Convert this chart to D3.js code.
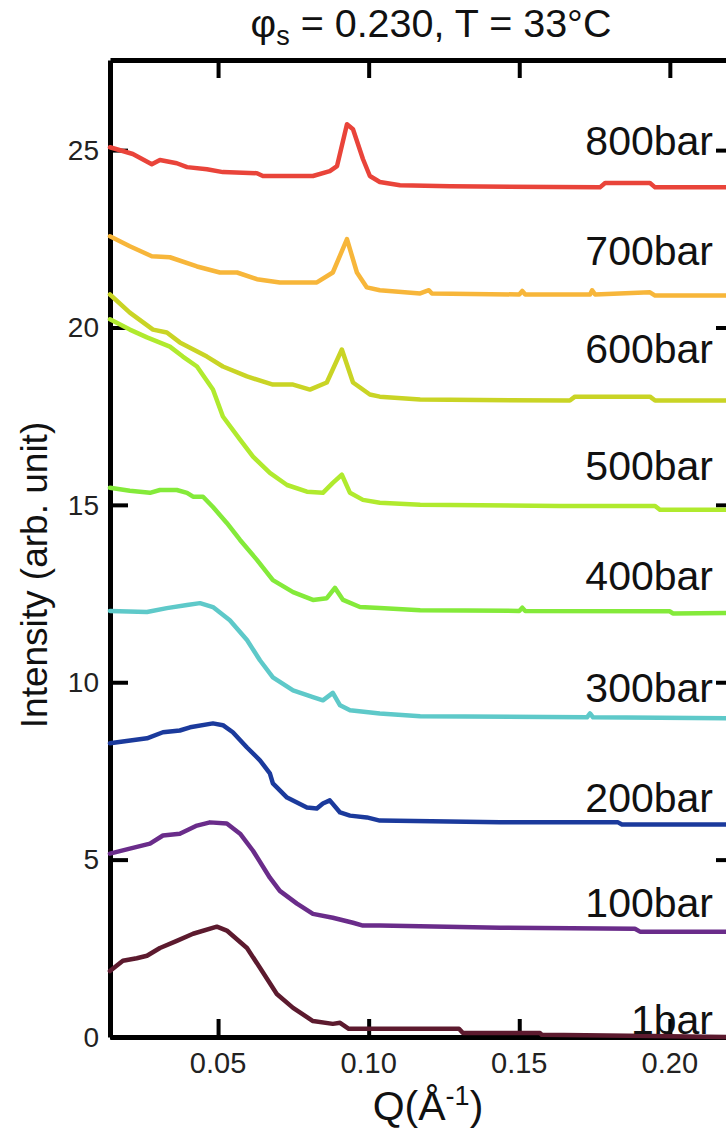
<!DOCTYPE html>
<html>
<head>
<meta charset="utf-8">
<script src="https://cdn.jsdelivr.net/npm/d3@7"></script>
<style>
  body { margin: 0; background: #fff; }
  text { font-family: "Liberation Sans", Arial, Helvetica, sans-serif; fill: #111; }
</style>
</head>
<body>
<script>
// SAXS curves, phi_s = 0.230, T = 33C, each pressure shifted by 3 units
var pressures = ["1bar", "100bar", "200bar", "300bar", "400bar", "500bar", "600bar", "700bar", "800bar"];
var colors = ["#5c1a2e", "#6a2c8a", "#1b3a9c", "#5ec9c9", "#84ea3a", "#b0ea2e", "#c9d425", "#f7b63a", "#e9443a"];
var labelY = [0.08, 3.38, 6.34, 9.44, 12.6, 15.7, 19.0, 21.76, 24.86];

var xTicks = [0.05, 0.10, 0.15, 0.20];
var xTickLabels = ["0.05", "0.10", "0.15", "0.20"];
var yTicks = [0, 5, 10, 15, 20, 25];
var yTickLabels = ["0", "5", "10", "15", "20", "25"];

var bar1 = [[0.0141,1.86],[0.0184,2.15],[0.0230,2.22],[0.0264,2.29],[0.0307,2.51],[0.0363,2.71],[0.0417,2.91],[0.0496,3.11],[0.0529,3.00],[0.0596,2.51],[0.0639,1.95],[0.0695,1.21],[0.0749,0.82],[0.0815,0.45],[0.0881,0.37],[0.0905,0.40],[0.0934,0.23],[0.1017,0.23],[0.1300,0.23],[0.1313,0.11],[0.1569,0.11],[0.1575,0.06],[0.1934,0.03],[0.2213,0.0]];
var bar100 = [[0.0141,5.17],[0.0207,5.31],[0.0274,5.45],[0.0317,5.68],[0.0373,5.73],[0.0430,5.96],[0.0473,6.05],[0.0529,6.02],[0.0573,5.73],[0.0616,5.25],[0.0672,4.49],[0.0705,4.12],[0.0762,3.76],[0.0815,3.47],[0.0881,3.36],[0.0948,3.22],[0.0981,3.14],[0.1037,3.14],[0.1436,3.08],[0.1884,3.05],[0.1901,2.97],[0.2213,2.97]];
var bar200 = [[0.0141,8.28],[0.0264,8.42],[0.0317,8.59],[0.0373,8.64],[0.0407,8.73],[0.0483,8.84],[0.0516,8.79],[0.0549,8.59],[0.0596,8.16],[0.0639,7.80],[0.0672,7.43],[0.0682,7.15],[0.0729,6.75],[0.0795,6.47],[0.0828,6.44],[0.0848,6.58],[0.0871,6.67],[0.0905,6.33],[0.0938,6.24],[0.0994,6.19],[0.1037,6.10],[0.1436,6.05],[0.1828,6.05],[0.1841,5.99],[0.2213,5.99]];
var bar300 = [[0.0141,12.01],[0.0264,11.98],[0.0330,12.09],[0.0397,12.18],[0.0440,12.23],[0.0483,12.12],[0.0539,11.75],[0.0596,11.19],[0.0639,10.62],[0.0682,10.14],[0.0749,9.77],[0.0815,9.58],[0.0848,9.49],[0.0881,9.70],[0.0905,9.35],[0.0938,9.21],[0.1037,9.12],[0.1171,9.04],[0.1725,9.01],[0.1735,9.12],[0.1745,9.01],[0.2213,8.98]];
var bar400 = [[0.0141,15.48],[0.0207,15.40],[0.0274,15.34],[0.0307,15.42],[0.0363,15.42],[0.0397,15.34],[0.0417,15.23],[0.0450,15.23],[0.0483,14.94],[0.0529,14.49],[0.0573,14.01],[0.0629,13.45],[0.0682,12.88],[0.0749,12.54],[0.0815,12.32],[0.0861,12.37],[0.0888,12.66],[0.0915,12.32],[0.0971,12.12],[0.1037,12.09],[0.1171,12.03],[0.1500,12.01],[0.1510,12.10],[0.1520,12.01],[0.2000,12.00],[0.2010,11.94],[0.2213,11.95]];
var bar500 = [[0.0141,20.23],[0.0207,19.94],[0.0264,19.72],[0.0340,19.46],[0.0383,19.18],[0.0430,18.90],[0.0483,18.25],[0.0516,17.49],[0.0573,16.84],[0.0616,16.36],[0.0672,15.90],[0.0729,15.56],[0.0795,15.37],[0.0848,15.34],[0.0881,15.62],[0.0911,15.85],[0.0938,15.34],[0.0981,15.14],[0.1037,15.06],[0.1171,15.00],[0.1635,14.97],[0.1951,14.97],[0.1967,14.86],[0.2213,14.86]];
var bar600 = [[0.0141,20.93],[0.0207,20.42],[0.0284,19.94],[0.0330,19.86],[0.0373,19.58],[0.0463,19.18],[0.0516,18.90],[0.0596,18.62],[0.0682,18.39],[0.0749,18.39],[0.0805,18.25],[0.0861,18.45],[0.0911,19.38],[0.0948,18.45],[0.1004,18.11],[0.1037,18.05],[0.1171,17.97],[0.1668,17.94],[0.1685,18.05],[0.1934,18.05],[0.1951,17.94],[0.2213,17.94]];
var bar700 = [[0.0141,22.57],[0.0207,22.29],[0.0280,22.01],[0.0340,21.98],[0.0430,21.72],[0.0506,21.55],[0.0563,21.55],[0.0629,21.36],[0.0705,21.27],[0.0828,21.27],[0.0881,21.55],[0.0928,22.49],[0.0961,21.55],[0.0994,21.13],[0.1037,21.05],[0.1171,20.96],[0.1200,21.05],[0.1210,20.96],[0.1500,20.93],[0.1510,21.03],[0.1520,20.93],[0.1735,20.93],[0.1742,21.05],[0.1752,20.93],[0.1934,20.99],[0.1951,20.90],[0.2213,20.90]];
var bar800 = [[0.0141,25.08],[0.0217,24.89],[0.0280,24.60],[0.0307,24.72],[0.0363,24.63],[0.0397,24.52],[0.0463,24.46],[0.0516,24.38],[0.0629,24.35],[0.0649,24.27],[0.0815,24.27],[0.0871,24.41],[0.0895,24.55],[0.0928,25.73],[0.0948,25.59],[0.0981,24.75],[0.1004,24.27],[0.1037,24.10],[0.1104,24.01],[0.1270,23.98],[0.1768,23.95],[0.1785,24.07],[0.1934,24.07],[0.1951,23.95],[0.2213,23.95]];

var curves = [bar1, bar100, bar200, bar300, bar400, bar500, bar600, bar700, bar800];

var drawChart = function()
{
  var width = 726, height = 1132;
  var plotLeft = 110, plotRight = 734, plotTop = 60, plotBottom = 1037;

  var svg = d3.select("body").append("svg")
    .attr("width", width)
    .attr("height", height);

  var x = d3.scaleLinear().domain([0.01412, 0.2213]).range([plotLeft, plotRight]);
  var y = d3.scaleLinear().domain([0, 27.54]).range([plotBottom, plotTop]);

  // frame with inward ticks on all four sides
  var tickLen = 18;
  var axisG = svg.append("g");

  axisG.append("g")
    .attr("transform", "translate(0," + plotBottom + ")")
    .call(d3.axisBottom(x).tickValues(xTicks).tickSizeInner(-tickLen).tickSizeOuter(0).tickFormat(""));
  axisG.append("g")
    .attr("transform", "translate(0," + plotTop + ")")
    .call(d3.axisTop(x).tickValues(xTicks).tickSizeInner(-tickLen).tickSizeOuter(0).tickFormat(""));
  axisG.append("g")
    .attr("transform", "translate(" + plotLeft + ",0)")
    .call(d3.axisLeft(y).tickValues(yTicks).tickSizeInner(-tickLen).tickSizeOuter(0).tickFormat(""));
  axisG.append("g")
    .attr("transform", "translate(" + plotRight + ",0)")
    .call(d3.axisRight(y).tickValues(yTicks).tickSizeInner(-tickLen).tickSizeOuter(0).tickFormat(""));

  axisG.selectAll(".domain").attr("stroke", "#000").attr("stroke-width", 5);
  axisG.selectAll(".tick line").attr("stroke", "#000").attr("stroke-width", 4);

  // tick labels
  svg.append("g").selectAll("text")
    .data(xTicks)
    .enter()
    .append("text")
    .attr("x", function(d) { return x(d); })
    .attr("y", plotBottom + 36)
    .attr("text-anchor", "middle")
    .style("font-size", "29px")
    .style("fill", "#222")
    .text(function(d, i) { return xTickLabels[i]; });

  svg.append("g").selectAll("text")
    .data(yTicks)
    .enter()
    .append("text")
    .attr("x", plotLeft - 11)
    .attr("y", function(d) { return y(d); })
    .attr("dy", "0.35em")
    .attr("text-anchor", "end")
    .style("font-size", "28px")
    .style("fill", "#222")
    .text(function(d, i) { return yTickLabels[i]; });

  // curves
  var line = d3.line()
    .x(function(d) { return x(d[0]); })
    .y(function(d) { return y(d[1]); });

  svg.append("g").selectAll("path")
    .data(curves)
    .enter()
    .append("path")
    .attr("d", line)
    .attr("fill", "none")
    .attr("stroke", function(d, i) { return colors[i]; })
    .attr("stroke-width", 4.5)
    .attr("stroke-linejoin", "round")
    .attr("stroke-linecap", "round");

  // pressure labels
  svg.append("g").selectAll("text")
    .data(pressures)
    .enter()
    .append("text")
    .attr("x", 713)
    .attr("y", function(d, i) { return y(labelY[i]); })
    .attr("text-anchor", "end")
    .style("font-size", "41px")
    .text(function(d) { return d; });

  // titles
  var title = svg.append("text")
    .attr("x", 431)
    .attr("y", 37)
    .attr("text-anchor", "middle")
    .style("font-size", "39.5px");
  title.append("tspan").text("φ");
  title.append("tspan").attr("dy", 8).style("font-size", "27px").text("s");
  title.append("tspan").attr("dy", -8).text(" = 0.230, T = 33°C");

  var xLabel = svg.append("text")
    .attr("x", 428)
    .attr("y", 1120)
    .attr("text-anchor", "middle")
    .style("font-size", "41px");
  xLabel.append("tspan").text("Q(Å");
  xLabel.append("tspan").attr("dy", -15).style("font-size", "27px").text("-1");
  xLabel.append("tspan").attr("dy", 15).text(")");

  svg.append("text")
    .attr("transform", "translate(47,575) rotate(-90)")
    .attr("text-anchor", "middle")
    .style("font-size", "37px")
    .text("Intensity (arb. unit)");
}

drawChart();
</script>
</body>
</html>
